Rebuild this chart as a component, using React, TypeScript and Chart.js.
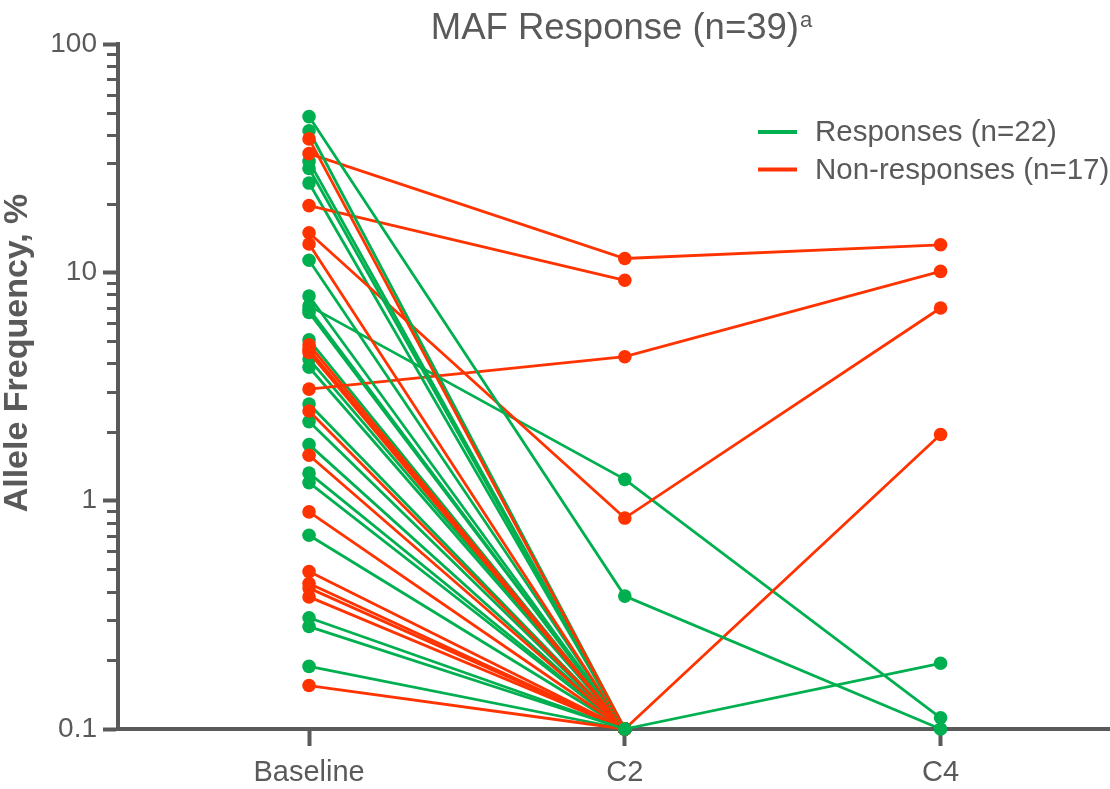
import React, { useEffect, useRef } from 'react';
import { Chart, registerables } from 'chart.js';

Chart.register(...registerables);

const timepoints = ['Baseline', 'C2', 'C4'];
const yMajorTicks = [0.1, 1, 10, 100];
const chartTitle = 'MAF Response (n=39)';
const titleSuperscript = 'a';
const yAxisTitle = 'Allele Frequency, %';
const legendLabels = ['Responses (n=22)', 'Non-responses (n=17)'];

const GREEN = '#00B050';
const RED = '#FF3300';
const GRAY = '#5A5A5A';
const FONT = '"Liberation Sans", Arial, Helvetica, sans-serif';

// Responders (n=22)
const respBaseline = [48.1, 41.7, 30.6, 28.5, 24.6, 11.3, 7.88, 7.13, 6.67, 6.9, 5.06, 4.17, 3.84, 2.65, 2.22, 1.76, 1.32, 1.2, 0.706, 0.307, 0.281, 0.188];
const respC2 = [0.382, 0.1, 0.1, 0.1, 0.1, 0.1, 0.1, 1.24, 0.1, 0.1, 0.1, 0.1, 0.1, 0.1, 0.1, 0.1, 0.1, 0.1, 0.1, 0.1, 0.1, 0.1];
const respC4: (number | null)[] = [0.1, null, null, null, null, null, null, 0.112, null, 0.194, null, null, null, null, null, null, null, null, null, null, null, null];

// Non-responders (n=17)
const nonBaseline = [38.4, 33.1, 19.6, 14.9, 13.3, 4.82, 4.6, 4.46, 3.08, 2.47, 1.58, 0.893, 0.489, 0.434, 0.414, 0.379, 0.155];
const nonC2 = [0.1, 11.5, 9.23, 0.839, 0.1, 0.1, 0.1, 0.1, 4.27, 0.1, 0.1, 0.1, 0.1, 0.1, 0.1, 0.1, 0.1];
const nonC4: (number | null)[] = [null, 13.2, null, 6.98, null, null, 1.95, null, 10.1, null, null, null, null, null, null, null, null];

function series(b: number, c2: number, c4: number | null) {
  return [
    { x: 0, y: b },
    { x: 1, y: c2 },
    { x: 2, y: c4 },
  ];
}

function makeDatasets() {
  const ds: any[] = [];
  const common = {
    borderWidth: 2.8,
    pointRadius: 6.8,
    pointHoverRadius: 6.8,
    pointBorderWidth: 0,
    tension: 0,
    spanGaps: false,
    fill: false,
    clip: false,
  };
  const n = Math.max(respBaseline.length, nonBaseline.length);
  for (let i = 0; i < n; i++) {
    if (i < respBaseline.length) {
      ds.push({
        ...common,
        label: legendLabels[0],
        data: series(respBaseline[i], respC2[i], respC4[i]),
        borderColor: GREEN,
        backgroundColor: GREEN,
        pointBackgroundColor: GREEN,
        order: i === 20 ? -1 : 0,
      });
    }
    if (i < nonBaseline.length) {
      ds.push({
        ...common,
        label: legendLabels[1],
        data: series(nonBaseline[i], nonC2[i], nonC4[i]),
        borderColor: RED,
        backgroundColor: RED,
        pointBackgroundColor: RED,
        order: 0,
      });
    }
  }
  return ds;
}

const decorPlugin = {
  id: 'decor',
  afterDraw(chart: any) {
    const ctx = chart.ctx;
    const area = chart.chartArea;
    const y = chart.scales.y;
    ctx.save();
    // extend x axis line to the right edge
    ctx.strokeStyle = GRAY;
    ctx.lineWidth = 4;
    ctx.beginPath();
    ctx.moveTo(area.right - 1, area.bottom);
    ctx.lineTo(chart.width, area.bottom);
    ctx.stroke();
    // minor ticks on log axis
    ctx.lineWidth = 3;
    for (let d = 0; d < yMajorTicks.length - 1; d++) {
      const base = yMajorTicks[d];
      for (let k = 2; k <= 9; k++) {
        const py = Math.round(y.getPixelForValue(base * k)) + 0.5;
        ctx.beginPath();
        ctx.moveTo(area.left - 11, py);
        ctx.lineTo(area.left, py);
        ctx.stroke();
      }
    }
    // title
    ctx.fillStyle = GRAY;
    ctx.textBaseline = 'alphabetic';
    ctx.font = `36.5px ${FONT}`;
    const tw = ctx.measureText(chartTitle).width;
    ctx.font = `22px ${FONT}`;
    const sw = ctx.measureText(titleSuperscript).width;
    const cx = 621;
    const startX = cx - (tw + sw) / 2;
    ctx.textAlign = 'left';
    ctx.font = `36.5px ${FONT}`;
    ctx.fillText(chartTitle, startX, 39);
    ctx.font = `22px ${FONT}`;
    ctx.fillText(titleSuperscript, startX + tw + 1, 27);
    // y axis title
    ctx.save();
    ctx.translate(18, 353);
    ctx.rotate(-Math.PI / 2);
    ctx.font = `bold 34px ${FONT}`;
    ctx.textAlign = 'center';
    ctx.textBaseline = 'middle';
    ctx.fillText(yAxisTitle, 0, 0);
    ctx.restore();
    // legend
    const colors = [GREEN, RED];
    ctx.font = `29.5px ${FONT}`;
    ctx.textAlign = 'left';
    ctx.textBaseline = 'middle';
    for (let i = 0; i < legendLabels.length; i++) {
      const ly = 132 + i * 37.5;
      ctx.strokeStyle = colors[i];
      ctx.lineWidth = 4;
      ctx.beginPath();
      ctx.moveTo(758, ly);
      ctx.lineTo(797, ly);
      ctx.stroke();
      ctx.fillStyle = GRAY;
      ctx.fillText(legendLabels[i], 815, ly + 1);
    }
    ctx.restore();
  },
};

export default function App() {
  const ref = useRef<HTMLCanvasElement | null>(null);
  useEffect(() => {
    if (!ref.current) return;
    const chart = new Chart(ref.current, {
      type: 'line',
      data: { datasets: makeDatasets() },
      options: {
        animation: false,
        responsive: true,
        maintainAspectRatio: false,
        layout: { padding: { top: 44, right: 0, left: 0, bottom: 0 } },
        plugins: {
          legend: { display: false },
          title: { display: false },
          tooltip: { enabled: false },
        },
        scales: {
          x: {
            type: 'linear',
            min: -0.605,
            max: 2.515,
            afterBuildTicks: (scale: any) => {
              scale.ticks = timepoints.map((_, i) => ({ value: i }));
            },
            afterFit: (scale: any) => {
              scale.height = 60;
            },
            ticks: {
              callback: (v: any) => timepoints[v] ?? '',
              color: GRAY,
              font: { family: FONT, size: 29 },
              padding: 10,
              maxRotation: 0,
              autoSkip: false,
            },
            grid: {
              drawOnChartArea: false,
              drawTicks: true,
              tickLength: 17,
              tickWidth: 4,
              tickColor: GRAY,
            },
            border: { display: true, color: GRAY, width: 4 },
          },
          y: {
            type: 'logarithmic',
            min: 0.1,
            max: 100,
            afterBuildTicks: (scale: any) => {
              scale.ticks = yMajorTicks.map((v) => ({ value: v, major: true }));
            },
            afterFit: (scale: any) => {
              scale.width = 118;
            },
            ticks: {
              callback: (v: any) => String(v),
              color: GRAY,
              font: { family: FONT, size: 28 },
              padding: 6,
              autoSkip: false,
            },
            grid: {
              drawOnChartArea: false,
              drawTicks: true,
              tickLength: 15,
              tickWidth: 4,
              tickColor: GRAY,
            },
            border: { display: true, color: GRAY, width: 4 },
          },
        },
      },
      plugins: [decorPlugin],
    });
    return () => chart.destroy();
  }, []);
  return (
    <div style={{ position: 'fixed', left: 0, top: 0, width: 1110, height: 789, background: '#fff' }}>
      <canvas ref={ref} />
    </div>
  );
}
